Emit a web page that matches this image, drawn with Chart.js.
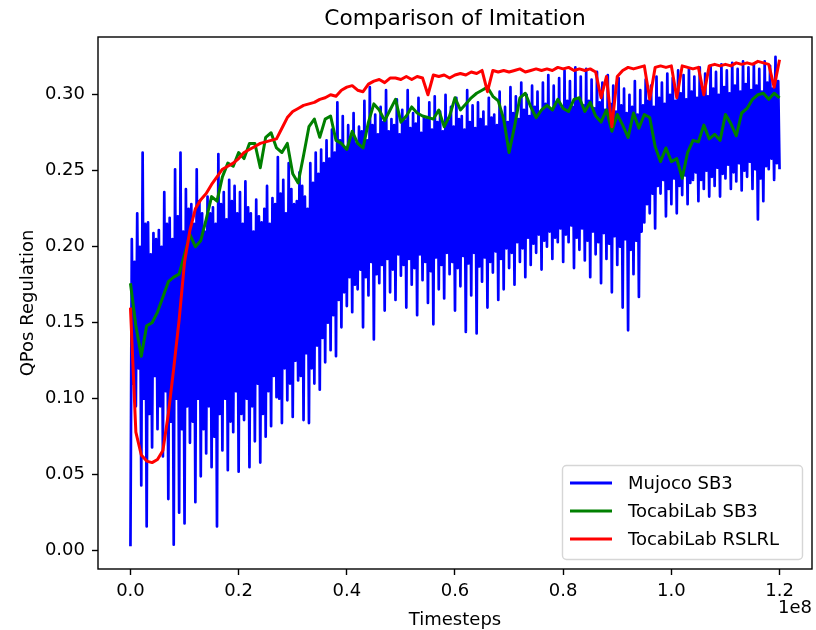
<!DOCTYPE html>
<html>
<head>
<meta charset="utf-8">
<script src="https://cdn.jsdelivr.net/npm/chart.js@4"></script>
<style>
  body { margin: 0; background: #fff; }
  canvas { display: block; }
</style>
</head>
<body>
<canvas id="myChart" width="816" height="630"></canvas>
<script>
// x values are in units of 1e8 timesteps
var xTicks = [0.0, 0.2, 0.4, 0.6, 0.8, 1.0, 1.2];
var yTicks = [0.00, 0.05, 0.10, 0.15, 0.20, 0.25, 0.30];
var seriesNames = ["Mujoco SB3", "TocabiLab SB3", "TocabiLab RSLRL"];
var seriesColors = ["#0000ff", "#008000", "#ff0000"];

// Mujoco SB3: very noisy, read every 0.0025e8 (low, high, low, high ...)
var blueStep = 0.0025;
var mujocoSB3 = [
  0.003,0.205,0.110,0.190, 0.095,0.222,0.120,0.200, 0.043,0.262,0.100,0.215, 0.016,0.216,0.090,0.195, 0.068,0.209,0.115,0.205,
  0.080,0.211,0.095,0.200, 0.062,0.236,0.105,0.215, 0.034,0.219,0.085,0.205, 0.004,0.251,0.100,0.220, 0.025,0.262,0.080,0.210,
  0.018,0.238,0.095,0.225, 0.071,0.228,0.085,0.215, 0.032,0.251,0.100,0.230, 0.049,0.222,0.080,0.210, 0.064,0.233,0.095,0.222,
  0.055,0.226,0.075,0.215, 0.016,0.261,0.090,0.228, 0.066,0.236,0.100,0.218, 0.053,0.244,0.085,0.230, 0.078,0.240,0.105,0.222,
  0.052,0.236,0.090,0.215, 0.086,0.243,0.100,0.226, 0.055,0.222,0.095,0.210, 0.072,0.231,0.110,0.220, 0.058,0.216,0.090,0.225,
  0.075,0.240,0.105,0.215, 0.082,0.232,0.115,0.228, 0.101,0.259,0.100,0.235, 0.084,0.244,0.120,0.222, 0.099,0.255,0.110,0.238,
  0.088,0.228,0.125,0.230, 0.112,0.249,0.115,0.240, 0.086,0.233,0.130,0.225, 0.084,0.255,0.120,0.242, 0.110,0.262,0.135,0.248,
  0.106,0.264,0.140,0.255, 0.124,0.270,0.150,0.258, 0.132,0.277,0.155,0.262, 0.128,0.295,0.165,0.270, 0.147,0.286,0.170,0.265,
  0.161,0.280,0.180,0.272, 0.157,0.288,0.175,0.268, 0.172,0.279,0.185,0.276, 0.147,0.296,0.180,0.270, 0.168,0.305,0.190,0.280,
  0.139,0.287,0.182,0.274, 0.176,0.292,0.188,0.282, 0.158,0.303,0.192,0.276, 0.170,0.284,0.185,0.280, 0.165,0.297,0.195,0.274,
  0.181,0.290,0.188,0.283, 0.160,0.303,0.192,0.278, 0.175,0.288,0.186,0.281, 0.155,0.298,0.195,0.275, 0.178,0.285,0.190,0.284,
  0.163,0.295,0.184,0.277, 0.149,0.299,0.193,0.282, 0.172,0.289,0.188,0.276, 0.166,0.300,0.196,0.283, 0.182,0.292,0.190,0.279,
  0.158,0.298,0.186,0.284, 0.174,0.286,0.194,0.277, 0.144,0.303,0.189,0.282, 0.168,0.293,0.196,0.278, 0.143,0.295,0.187,0.284,
  0.177,0.289,0.193,0.279, 0.160,0.298,0.190,0.285, 0.183,0.287,0.197,0.280, 0.165,0.302,0.192,0.286, 0.172,0.292,0.199,0.282,
  0.186,0.305,0.196,0.288, 0.175,0.299,0.203,0.284, 0.190,0.308,0.199,0.290, 0.180,0.300,0.206,0.286, 0.188,0.306,0.202,0.292,
  0.196,0.302,0.208,0.288, 0.185,0.308,0.204,0.294, 0.200,0.313,0.210,0.290, 0.192,0.306,0.206,0.295, 0.203,0.311,0.212,0.291,
  0.190,0.316,0.208,0.296, 0.203,0.309,0.214,0.292, 0.186,0.318,0.206,0.297, 0.198,0.312,0.212,0.293, 0.191,0.317,0.204,0.296,
  0.180,0.310,0.210,0.291, 0.195,0.315,0.203,0.295, 0.176,0.308,0.209,0.290, 0.192,0.313,0.202,0.294, 0.170,0.306,0.207,0.289,
  0.188,0.311,0.200,0.293, 0.160,0.304,0.205,0.288, 0.145,0.300,0.198,0.292, 0.182,0.309,0.204,0.287, 0.167,0.303,0.210,0.293,
  0.216,0.310,0.228,0.296, 0.222,0.306,0.235,0.292, 0.212,0.312,0.240,0.298, 0.235,0.308,0.244,0.294, 0.220,0.314,0.238,0.300,
  0.228,0.311,0.245,0.296, 0.222,0.316,0.240,0.301, 0.234,0.313,0.247,0.297, 0.228,0.317,0.242,0.302, 0.244,0.312,0.249,0.298,
  0.230,0.318,0.244,0.303, 0.238,0.314,0.250,0.299, 0.233,0.319,0.246,0.304, 0.240,0.315,0.252,0.300, 0.233,0.320,0.248,0.305,
  0.245,0.316,0.254,0.301, 0.238,0.321,0.249,0.306, 0.243,0.317,0.255,0.302, 0.237,0.322,0.250,0.307, 0.246,0.318,0.256,0.303,
  0.238,0.320,0.251,0.306, 0.218,0.317,0.245,0.302, 0.230,0.322,0.253,0.308, 0.251,0.319,0.258,0.304, 0.244,0.325,0.255,0.309,
  0.251
];

// TocabiLab SB3, read every 0.01e8
var lineStep = 0.01;
var tocabiSB3 = [
  0.176, 0.148, 0.128, 0.148, 0.150, 0.157, 0.167, 0.177, 0.180, 0.182,
  0.195, 0.208, 0.200, 0.204, 0.218, 0.233, 0.230, 0.246, 0.255, 0.253,
  0.262, 0.258, 0.268, 0.268, 0.252, 0.272, 0.275, 0.265, 0.262, 0.268,
  0.248, 0.242, 0.260, 0.279, 0.284, 0.272, 0.284, 0.286, 0.270, 0.268,
  0.264, 0.276, 0.268, 0.265, 0.282, 0.294, 0.290, 0.283, 0.290, 0.297,
  0.282, 0.286, 0.292, 0.288, 0.286, 0.285, 0.284, 0.290, 0.279, 0.286,
  0.298, 0.290, 0.294, 0.298, 0.301, 0.303, 0.305, 0.299, 0.296, 0.284,
  0.262, 0.279, 0.298, 0.301, 0.292, 0.285, 0.290, 0.293, 0.290, 0.297,
  0.291, 0.289, 0.297, 0.298, 0.289, 0.295, 0.286, 0.282, 0.290, 0.276,
  0.287, 0.280, 0.272, 0.288, 0.278, 0.287, 0.285, 0.266, 0.256, 0.265,
  0.256, 0.258, 0.245, 0.262, 0.270, 0.269, 0.280, 0.271, 0.274, 0.270,
  0.287, 0.281, 0.273, 0.288, 0.291, 0.297, 0.300, 0.301, 0.297, 0.301,
  0.298
];

// TocabiLab RSLRL, read every 0.01e8
var tocabiRSLRL = [
  0.160, 0.078, 0.063, 0.059, 0.058, 0.060, 0.066, 0.090, 0.120, 0.152,
  0.190, 0.211, 0.225, 0.231, 0.235, 0.241, 0.246, 0.251, 0.253, 0.255,
  0.258, 0.262, 0.264, 0.266, 0.268, 0.269, 0.270, 0.271, 0.278, 0.285,
  0.289, 0.291, 0.293, 0.294, 0.295, 0.297, 0.298, 0.300, 0.299, 0.303,
  0.305, 0.306, 0.303, 0.302, 0.307, 0.309, 0.310, 0.308, 0.311, 0.311,
  0.310, 0.312, 0.310, 0.312, 0.311, 0.300, 0.313, 0.312, 0.313, 0.311,
  0.313, 0.314, 0.313, 0.315, 0.314, 0.316, 0.302, 0.316, 0.315, 0.316,
  0.315, 0.316, 0.317, 0.315, 0.316, 0.317, 0.316, 0.317, 0.316, 0.318,
  0.317, 0.318, 0.316, 0.317, 0.316, 0.317, 0.315, 0.298, 0.312, 0.279,
  0.312, 0.316, 0.318, 0.317, 0.318, 0.319, 0.297, 0.318, 0.319, 0.318,
  0.319, 0.298, 0.319, 0.318, 0.317, 0.318, 0.300, 0.319, 0.320, 0.319,
  0.320, 0.319, 0.321, 0.320, 0.321, 0.320, 0.322, 0.321, 0.320, 0.305,
  0.323
];

function toPoints(values, step) {
  return values.map(function (v, i) { return { x: i * step, y: v }; });
}

Chart.defaults.font.family = "'DejaVu Sans', sans-serif";
Chart.defaults.color = "#000";

var decor = {
  id: "decor",
  afterDatasetsDraw: function (chart) {
    var ctx = chart.ctx, a = chart.chartArea;
    ctx.save();
    ctx.strokeStyle = "#000";
    ctx.lineWidth = 1.4;
    ctx.strokeRect(a.left, a.top, a.right - a.left, a.bottom - a.top);
    ctx.restore();
  },
  afterDraw: function (chart) {
    var ctx = chart.ctx, a = chart.chartArea;
    var cx = (a.left + a.right) / 2;
    ctx.save();
    ctx.fillStyle = "#000";
    ctx.textAlign = "center";
    ctx.textBaseline = "alphabetic";
    ctx.font = "21.7px 'DejaVu Sans'";
    ctx.fillText("Comparison of Imitation", cx, 25);
    ctx.font = "18px 'DejaVu Sans'";
    ctx.fillText("Timesteps", cx, 624.5);
    ctx.textAlign = "right";
    ctx.fillText("1e8", a.right, 613);
    ctx.save();
    ctx.translate(32.5, (a.top + a.bottom) / 2);
    ctx.rotate(-Math.PI / 2);
    ctx.textAlign = "center";
    ctx.fillText("QPos Regulation", 0, 0);
    ctx.restore();

    // legend, lower right
    var bx = 562.5, by = 465.5, bw = 240, bh = 94;
    ctx.beginPath();
    ctx.roundRect(bx, by, bw, bh, 4);
    ctx.fillStyle = "rgba(255,255,255,0.8)";
    ctx.fill();
    ctx.strokeStyle = "rgba(204,204,204,0.8)";
    ctx.lineWidth = 1.4;
    ctx.stroke();
    var rows = [483, 511, 539];
    ctx.textAlign = "left";
    ctx.textBaseline = "middle";
    ctx.font = "18px 'DejaVu Sans'";
    for (var i = 0; i < seriesNames.length; i++) {
      ctx.beginPath();
      ctx.moveTo(570, rows[i]);
      ctx.lineTo(612, rows[i]);
      ctx.strokeStyle = seriesColors[i];
      ctx.lineWidth = 2.8;
      ctx.stroke();
      ctx.fillStyle = "#000";
      ctx.fillText(seriesNames[i], 628, rows[i] + 1);
    }
    ctx.restore();
  }
};

var ctx = document.getElementById("myChart");
var myLineChart = new Chart(ctx, {
  type: "line",
  data: {
    datasets: [{
      label: seriesNames[0],
      data: toPoints(mujocoSB3, blueStep),
      borderColor: seriesColors[0],
      borderWidth: 2.7,
      borderJoinStyle: "round",
      pointRadius: 0,
      tension: 0,
      order: 3
    }, {
      label: seriesNames[1],
      data: toPoints(tocabiSB3, lineStep),
      borderColor: seriesColors[1],
      borderWidth: 3,
      borderJoinStyle: "round",
      pointRadius: 0,
      tension: 0,
      order: 2
    }, {
      label: seriesNames[2],
      data: toPoints(tocabiRSLRL, lineStep),
      borderColor: seriesColors[2],
      borderWidth: 3,
      borderJoinStyle: "round",
      pointRadius: 0,
      tension: 0,
      order: 1
    }]
  },
  options: {
    responsive: false,
    animation: false,
    devicePixelRatio: 1,
    layout: { padding: { top: 37, right: 4, left: 0, bottom: 0 } },
    plugins: {
      legend: { display: false },
      title: { display: false },
      tooltip: { enabled: false }
    },
    scales: {
      x: {
        type: "linear",
        min: -0.06,
        max: 1.26,
        afterBuildTicks: function (scale) {
          scale.ticks = xTicks.map(function (v) { return { value: v }; });
        },
        afterFit: function (scale) { scale.height = 61; },
        border: { display: false },
        grid: { drawOnChartArea: false, drawTicks: true, tickLength: 6, tickColor: "#000", tickWidth: 1.4 },
        ticks: {
          font: { size: 18 },
          color: "#000",
          padding: 6,
          maxRotation: 0,
          autoSkip: false,
          callback: function (v) { return Number(v).toFixed(1); }
        }
      },
      y: {
        type: "linear",
        min: -0.012,
        max: 0.338,
        afterBuildTicks: function (scale) {
          scale.ticks = yTicks.map(function (v) { return { value: v }; });
        },
        afterFit: function (scale) { scale.width = 98; },
        border: { display: false },
        grid: { drawOnChartArea: false, drawTicks: true, tickLength: 6, tickColor: "#000", tickWidth: 1.4 },
        ticks: {
          font: { size: 18 },
          color: "#000",
          padding: 7,
          autoSkip: false,
          callback: function (v) { return Number(v).toFixed(2); }
        }
      }
    }
  },
  plugins: [decor]
});
</script>
</body>
</html>
